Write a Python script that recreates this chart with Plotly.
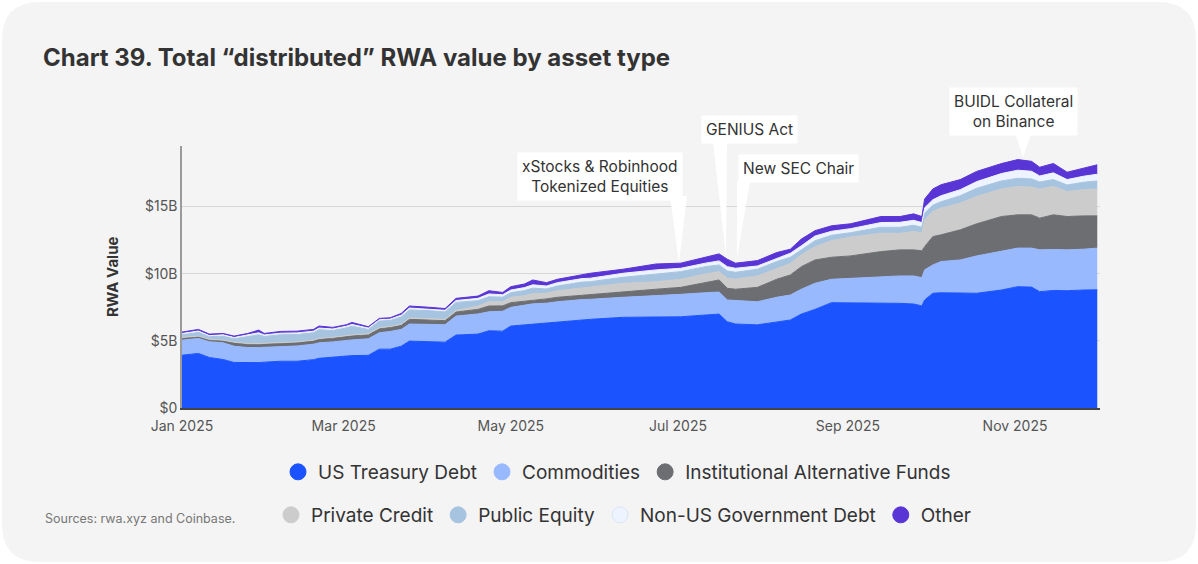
import plotly.graph_objects as go

# chart 39 - distributed RWA value by asset type (values in $B)

dates = ["2025-01-01", "2025-01-07", "2025-01-11", "2025-01-16", "2025-01-20", "2025-01-25",
         "2025-01-29", "2025-01-31", "2025-02-06", "2025-02-12", "2025-02-18", "2025-02-20",
         "2025-02-25", "2025-03-02", "2025-03-04", "2025-03-10", "2025-03-14", "2025-03-18",
         "2025-03-22", "2025-03-25", "2025-04-01", "2025-04-07", "2025-04-11", "2025-04-19",
         "2025-04-23", "2025-04-28", "2025-05-01", "2025-05-06", "2025-05-09", "2025-05-14",
         "2025-05-18", "2025-05-27", "2025-05-30", "2025-06-11", "2025-06-23", "2025-07-02",
         "2025-07-11", "2025-07-16", "2025-07-19", "2025-07-22", "2025-07-30", "2025-08-06",
         "2025-08-11", "2025-08-15", "2025-08-20", "2025-08-26", "2025-09-02", "2025-09-13",
         "2025-09-20", "2025-09-25", "2025-09-28", "2025-09-29", "2025-10-02", "2025-10-05",
         "2025-10-12", "2025-10-18", "2025-10-27", "2025-11-02", "2025-11-07", "2025-11-10",
         "2025-11-15", "2025-11-20", "2025-11-26", "2025-12-01"]

us_treasury = [3.93, 4.06, 3.76, 3.61, 3.39, 3.36, 3.38, 3.41, 3.48, 3.48, 3.60, 3.70,
               3.78, 3.88, 3.90, 3.92, 4.38, 4.38, 4.60, 4.98, 4.92, 4.90, 5.43, 5.50,
               5.75, 5.72, 6.10, 6.19, 6.25, 6.30, 6.40, 6.58, 6.60, 6.75, 6.75, 6.79,
               6.92, 6.99, 6.42, 6.25, 6.19, 6.42, 6.55, 6.99, 7.34, 7.84, 7.84, 7.84,
               7.79, 7.74, 7.60, 8.04, 8.54, 8.58, 8.58, 8.54, 8.78, 9.03, 9.00, 8.66,
               8.75, 8.73, 8.78, 8.80]
commodities = [1.12, 1.12, 1.17, 1.24, 1.21, 1.14, 1.12, 1.11, 1.12, 1.14, 1.15, 1.15,
               1.14, 1.17, 1.17, 1.23, 1.22, 1.32, 1.25, 1.27, 1.30, 1.30, 1.41, 1.50,
               1.41, 1.48, 1.39, 1.47, 1.50, 1.50, 1.51, 1.49, 1.49, 1.49, 1.59, 1.67,
               1.66, 1.64, 1.62, 1.74, 1.72, 1.82, 1.86, 1.85, 1.94, 1.74, 1.81, 1.94,
               2.04, 2.09, 2.10, 2.24, 2.11, 2.32, 2.44, 2.78, 2.86, 2.87, 2.90, 3.11,
               3.05, 3.04, 3.04, 3.10]
inst_alt_funds = [0.15, 0.12, 0.13, 0.15, 0.25, 0.25, 0.25, 0.25, 0.25, 0.25, 0.25, 0.27,
                  0.28, 0.30, 0.30, 0.30, 0.30, 0.30, 0.30, 0.35, 0.33, 0.30, 0.30, 0.34,
                  0.43, 0.40, 0.35, 0.28, 0.30, 0.32, 0.33, 0.33, 0.32, 0.42, 0.50, 0.52,
                  0.75, 0.90, 0.87, 0.85, 1.07, 1.34, 1.49, 1.68, 1.74, 1.64, 1.67, 1.86,
                  1.94, 1.94, 2.00, 1.73, 2.11, 1.99, 2.24, 2.39, 2.61, 2.48, 2.48, 2.36,
                  2.58, 2.48, 2.48, 2.40]
private_credit = [0.05, 0.05, 0.05, 0.05, 0.05, 0.05, 0.05, 0.05, 0.05, 0.05, 0.05, 0.06,
                  0.06, 0.07, 0.07, 0.07, 0.07, 0.07, 0.08, 0.10, 0.10, 0.10, 0.12, 0.25,
                  0.32, 0.30, 0.40, 0.42, 0.45, 0.42, 0.49, 0.55, 0.57, 0.62, 0.56, 0.60,
                  0.65, 0.62, 0.75, 0.76, 0.85, 0.82, 0.85, 0.88, 0.98, 1.24, 1.40, 1.37,
                  1.23, 1.37, 1.35, 2.00, 1.87, 1.99, 1.99, 2.04, 2.05, 2.11, 2.07, 2.17,
                  2.12, 1.87, 1.95, 2.00]
public_equity = [0.20, 0.28, 0.20, 0.30, 0.25, 0.50, 0.65, 0.50, 0.55, 0.55, 0.55, 0.65,
                 0.50, 0.55, 0.65, 0.33, 0.50, 0.45, 0.55, 0.60, 0.60, 0.55, 0.60, 0.40,
                 0.37, 0.35, 0.34, 0.38, 0.42, 0.32, 0.35, 0.42, 0.42, 0.45, 0.58, 0.57,
                 0.54, 0.50, 0.54, 0.50, 0.50, 0.50, 0.47, 0.37, 0.45, 0.39, 0.33, 0.44,
                 0.45, 0.46, 0.40, 0.49, 0.47, 0.47, 0.55, 0.60, 0.60, 0.61, 0.60, 0.52,
                 0.50, 0.48, 0.55, 0.60]
non_us_gov_debt = [0.10, 0.10, 0.08, 0.10, 0.10, 0.12, 0.15, 0.12, 0.12, 0.12, 0.12, 0.12,
                   0.12, 0.12, 0.13, 0.10, 0.10, 0.10, 0.13, 0.14, 0.12, 0.12, 0.14, 0.17,
                   0.21, 0.18, 0.20, 0.22, 0.25, 0.22, 0.25, 0.26, 0.26, 0.30, 0.30, 0.25,
                   0.26, 0.30, 0.32, 0.30, 0.24, 0.25, 0.30, 0.30, 0.35, 0.30, 0.30, 0.35,
                   0.37, 0.37, 0.35, 0.40, 0.40, 0.45, 0.45, 0.50, 0.55, 0.60, 0.57, 0.45,
                   0.50, 0.40, 0.45, 0.50]
other = [0.10, 0.12, 0.11, 0.10, 0.10, 0.13, 0.20, 0.11, 0.13, 0.13, 0.13, 0.15,
         0.12, 0.11, 0.15, 0.10, 0.10, 0.10, 0.13, 0.15, 0.13, 0.13, 0.16, 0.17,
         0.24, 0.17, 0.25, 0.27, 0.36, 0.25, 0.25, 0.27, 0.37, 0.30, 0.44, 0.38,
         0.44, 0.52, 0.55, 0.38, 0.40, 0.42, 0.30, 0.50, 0.40, 0.41, 0.36, 0.45,
         0.43, 0.48, 0.45, 0.65, 0.80, 0.82, 0.75, 0.76, 0.74, 0.79, 0.74, 0.65,
         0.70, 0.55, 0.60, 0.70]

series_names = ["US Treasury Debt", "Commodities", "Institutional Alternative Funds",
                "Private Credit", "Public Equity", "Non-US Government Debt", "Other"]
series_values = [us_treasury, commodities, inst_alt_funds, private_credit,
                 public_equity, non_us_gov_debt, other]
colors = ["#1a53ff", "#99b9ff", "#6d6e71", "#cccccc", "#a6c4e0", "#eef4ff", "#5a35d6"]

y_ticks = [0, 5, 10, 15]
y_tick_labels = ["$0", "$5B", "$10B", "$15B"]

# pixel box of the plot area, used to place decorations
W, H = 1198, 564
L, R, T, B = 182, 1100, 146, 408


def px(x):
    return (x - L) / (R - L)


def py(y):
    return (B - y) / (B - T)


FONT = "Inter"
fig = go.Figure()

for name, vals, col in zip(series_names, series_values, colors):
    fig.add_trace(go.Scatter(
        x=dates, y=vals, name=name, stackgroup="rwa", mode="lines",
        line=dict(width=1, color=col), fillcolor=col, showlegend=False,
        hoverinfo="x+y+name"))

# legend entries as round dots, split over two rows
for i, (name, col) in enumerate(zip(series_names, colors)):
    fig.add_trace(go.Scatter(
        x=[None], y=[None], mode="markers", name=name,
        marker=dict(size=17, color=col, line=dict(width=1, color="#dbe5f5" if i == 5 else col)),
        legend="legend" if i < 3 else "legend2"))

# card background with rounded corners
r = 38
x0, x1, y0, y1 = 2, 1196, 2, 562
card = (f"M {px(x0 + r)},{py(y0)} L {px(x1 - r)},{py(y0)} Q {px(x1)},{py(y0)} {px(x1)},{py(y0 + r)} "
        f"L {px(x1)},{py(y1 - r)} Q {px(x1)},{py(y1)} {px(x1 - r)},{py(y1)} "
        f"L {px(x0 + r)},{py(y1)} Q {px(x0)},{py(y1)} {px(x0)},{py(y1 - r)} "
        f"L {px(x0)},{py(y0 + r)} Q {px(x0)},{py(y0)} {px(x0 + r)},{py(y0)} Z")
fig.add_shape(type="path", path=card, xref="paper", yref="paper", layer="below",
              fillcolor="#f4f4f4", line=dict(width=0))


def wedge(a, b, tip):
    return (f"M {px(a[0])},{py(a[1])} L {px(b[0])},{py(b[1])} "
            f"L {px(tip[0])},{py(tip[1])} Z")


for pts in [((670, 196), (687, 196), (679, 263)),
            ((713, 142), (727, 142), (726, 257)),
            ((737, 181), (750, 181), (737, 258)),
            ((1015, 132), (1032, 132), (1023, 157))]:
    fig.add_shape(type="path", path=wedge(*pts), xref="paper", yref="paper",
                  layer="above", fillcolor="white", line=dict(width=0))

callouts = [("xStocks & Robinhood<br>Tokenized Equities", 600, 176),
            ("GENIUS Act", 749, 129),
            ("New SEC Chair", 798, 168),
            ("BUIDL Collateral<br>on Binance", 1013, 112)]
for text, cx, cy in callouts:
    fig.add_annotation(text=text, x=px(cx), y=py(cy), xref="paper", yref="paper",
                       xanchor="center", yanchor="middle",
                       showarrow=False, bgcolor="white", borderpad=4,
                       font=dict(family=FONT, size=15.5, color="#333333"))

fig.add_annotation(text="RWA Value", x=px(112), y=py(277), xref="paper", yref="paper",
                   xanchor="center", yanchor="middle", textangle=-90, showarrow=False,
                   font=dict(family=FONT, size=15, color="#333333", weight="bold"))
fig.add_annotation(text="Sources: rwa.xyz and Coinbase.", x=px(43), y=py(518),
                   xref="paper", yref="paper", xanchor="left", yanchor="middle",
                   showarrow=False,
                   font=dict(family=FONT, size=12.5, color="#777777"))

legend_style = dict(orientation="h", xanchor="left", yanchor="middle",
                    bgcolor="rgba(0,0,0,0)", itemclick=False, traceorder="normal",
                    font=dict(family=FONT, size=19, color="#333333"))

fig.update_layout(
    width=W, height=H,
    margin=dict(l=L, r=W - R, t=T, b=H - B),
    paper_bgcolor="white", plot_bgcolor="rgba(0,0,0,0)",
    title=dict(text="Chart 39. Total “distributed” RWA value by asset type",
               x=43 / W, y=1 - 58 / H, xref="container", yref="container",
               xanchor="left", yanchor="middle",
               font=dict(family=FONT, size=24, color="#333333", weight="bold")),
    xaxis=dict(type="date", range=["2025-01-01", "2025-12-02"], dtick="M2",
               tick0="2025-01-01", tickformat="%b %Y", showgrid=False,
               showline=True, linecolor="#444444", linewidth=2, ticks="",
               ticklabelstandoff=4,
               tickfont=dict(family=FONT, size=14, color="#555555")),
    yaxis=dict(range=[0, 19.5], tickvals=y_ticks, ticktext=y_tick_labels,
               showgrid=True, gridcolor="#d6d6d6", gridwidth=1, zeroline=False,
               showline=True, linecolor="#9a9a9a", linewidth=1.5, ticks="",
               tickfont=dict(family=FONT, size=14, color="#555555")),
    legend=dict(legend_style, x=px(278), y=py(472)),
    legend2=dict(legend_style, x=px(271), y=py(515)),
    hovermode="x unified",
)

fig.write_html("out.html", config={"displayModeBar": False},
               post_script="document.body.style.margin='0';")
